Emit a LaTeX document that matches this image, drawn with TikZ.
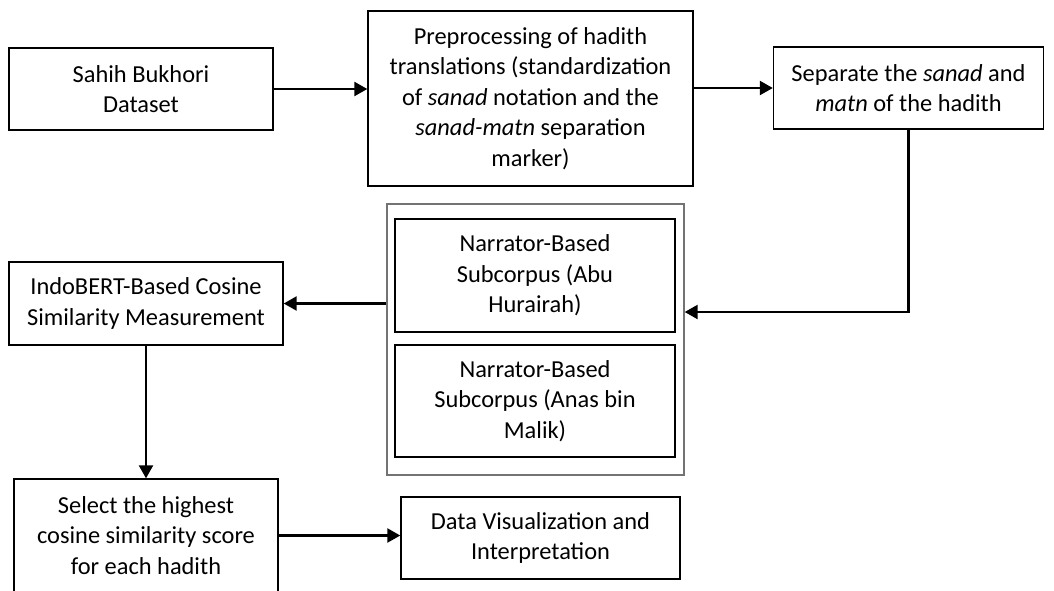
\documentclass[tikz,border=0pt]{standalone}
\usepackage{fontspec}
\setmainfont{Carlito}
\usetikzlibrary{positioning,arrows.meta,calc}

\begin{document}
\begin{tikzpicture}[
  x=0.5pt, y=-0.5pt,
  box/.style={draw, line width=0.7pt, align=center, font=\fontsize{12.2}{15.3}\selectfont, inner sep=0pt},
  grp/.style={draw=black!55, line width=0.7pt, inner sep=0pt},
  arr/.style={-{Triangle[length=6.5pt, width=7pt]}, line width=1.2pt}
]
  \useasboundingbox (0,0) rectangle (1054,590);
  \node[box, minimum width=132pt, minimum height=41pt] (ds) at (141,89) {Sahih Bukhori\\Dataset};
  \node[box, minimum width=162.5pt, minimum height=87.5pt] (pre) at (530.5,98.5) {Preprocessing of hadith\\translations (standardization\\of \textit{sanad} notation and the\\\textit{sanad-matn} separation\\marker)};
  \node[box, minimum width=135pt, minimum height=41pt] (sep) at (908.5,88) {Separate the \textit{sanad} and\\\textit{matn} of the hadith};
  \node[grp, minimum width=148.5pt, minimum height=135.5pt] (grp) at (535.5,339.5) {};
  \node[box, minimum width=140pt, minimum height=56.5pt] (abu) at (535,275.5) {Narrator-Based\\Subcorpus (Abu\\Hurairah)};
  \node[box, minimum width=140pt, minimum height=56pt] (anas) at (535,401) {Narrator-Based\\Subcorpus (Anas bin\\Malik)};
  \node[box, minimum width=137pt, minimum height=41.5pt] (cos) at (146,303.5) {IndoBERT-Based Cosine\\Similarity Measurement};
  \node[box, minimum width=132pt, minimum height=56.5pt] (sel) at (146,535.5) {Select the highest\\cosine similarity score\\for each hadith};
  \node[box, minimum width=139.5pt, minimum height=41pt] (vis) at (540.5,538) {Data Visualization and\\Interpretation};
  \draw[arr] (ds.east) -- (pre.west |- ds.east);
  \draw[arr] (pre.east |- sep.west) -- (sep.west);
  \draw[arr] (sep.south) |- ([yshift=13.75pt]grp.east);
  \draw[arr] (grp.west |- cos.east) -- (cos.east);
  \draw[arr] (cos.south) -- (sel.north);
  \draw[arr] (sel.east) -- (sel.east -| vis.west);
\end{tikzpicture}
\end{document}
